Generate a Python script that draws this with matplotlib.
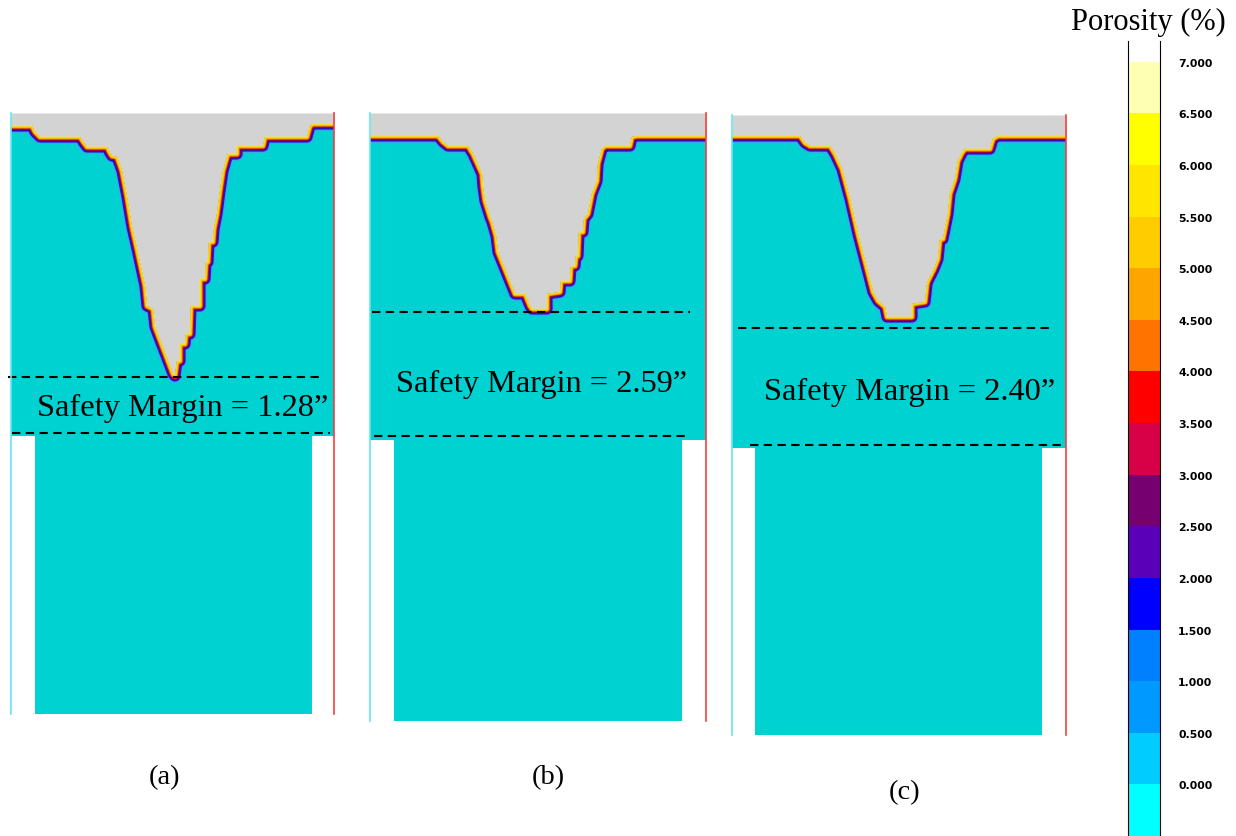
import numpy as np
import matplotlib
matplotlib.use('Agg')
from matplotlib import pyplot as plt

# ---- data (panel-local units = pixels from panel top-left) ----
# panel (a)
a_x = [0, 21, 24, 29, 69, 73, 76, 96, 99, 101, 106, 111, 116, 121, 126, 134, 136, 142, 144, 162, 164,
       166, 169, 169, 174, 175, 179, 180, 189, 189, 194, 195, 197, 198, 202, 203, 206, 209, 212, 216,
       217, 226, 226, 252, 254, 296, 299, 302, 323]
a_y = [13, 13, 19, 24, 24, 30, 34, 34, 40, 43, 44, 58, 84, 114, 136, 173, 193, 196, 214, 261, 263,
       248, 248, 231, 231, 221, 221, 193, 193, 166, 166, 149, 149, 129, 129, 116, 101, 78, 58, 44,
       41, 41, 33, 33, 24, 24, 13, 11, 11]
# panel (b)
b_x = [0, 68, 73, 78, 98, 103, 112, 113, 115, 120, 122, 126, 128, 145, 155, 160, 162, 177, 177, 190,
       191, 200, 201, 205, 206, 208, 209, 213, 214, 218, 222, 227, 228, 232, 235, 260, 262, 267, 336]
b_y = [23, 23, 29, 33, 33, 41, 61, 74, 88, 104, 109, 123, 139, 181, 181, 193, 196, 196, 181, 179,
       168, 168, 153, 153, 143, 143, 119, 119, 106, 101, 81, 68, 51, 36, 33, 33, 24, 23, 23]
# panel (c)
c_x = [0, 68, 73, 78, 98, 103, 110, 118, 126, 133, 141, 146, 153, 155, 180, 180, 193, 195, 196, 202,
       206, 208, 211, 216, 218, 223, 226, 230, 233, 258, 261, 266, 334]
c_y = [21, 21, 28, 31, 31, 39, 54, 84, 119, 146, 177, 186, 192, 202, 202, 189, 187, 169, 166, 154,
       144, 124, 124, 99, 79, 64, 46, 38, 34, 34, 24, 21, 21]

panel_labels = ['(a)', '(b)', '(c)']
margins = ['1.28', '2.59', '2.40']

# porosity colour scale
levels = [-0.5, 0.0, 0.5, 1.0, 1.5, 2.0, 2.5, 3.0, 3.5, 4.0, 4.5, 5.0, 5.5, 6.0, 6.5]
level_colors = ['#00FFFF', '#00CCFF', '#0099FF', '#0080FF', '#0000FF', '#5A00B8', '#760070',
                '#D80046', '#FF0000', '#FF7300', '#FFA500', '#FFCC00', '#FFE600', '#FFFF00', '#FFFFB4']
tick_vals = np.arange(0, 7.01, 0.5)

# ---- layout (pixel boxes in a 1236x837 canvas) ----
FW, FH = 1236, 837
panels = [
    dict(x=a_x, y=a_y, box=(11, 114, 334, 715), lower=(323, 24, 301),
         dash=[(264, -3, 311), (320, 1, 319)], txt=(172, 294), lab=(165, 778)),
    dict(x=b_x, y=b_y, box=(370, 114, 706, 722), lower=(327, 24, 312),
         dash=[(199, 2, 320), (323, 4, 320)], txt=(172, 270), lab=(548, 778)),
    dict(x=c_x, y=c_y, box=(732, 116, 1066, 736), lower=(333, 23, 310),
         dash=[(213, 6, 320), (330, 18, 330)], txt=(178, 276), lab=(905, 793)),
]

serif = 'Liberation Serif'
solid = '#00D2D2'
void = '#D3D3D3'
# boundary bands (colour, half stroke width in px), widest first
bands = [('#3AA8EC', 7.0), ('#1020D8', 5.6), ('#4A0090', 4.5), ('#C80028', 3.6),
         ('#E88C00', 2.6), ('#F0D400', 1.7)]
px2pt = 72.0 / 100

fig = plt.figure(figsize=(FW / 100, FH / 100), dpi=100)

for i, p in enumerate(panels):
    l, t, r, b = p['box']
    W, H = r - l, b - t
    ax = fig.add_axes([l / FW, 1 - b / FH, W / FW, H / FH])
    ax.set_xlim(0, W)
    ax.set_ylim(H, 0)
    ax.set_xticks([])
    ax.set_yticks([])
    ax.set_facecolor('white')
    for s in ['top', 'bottom']:
        ax.spines[s].set_visible(False)
    ax.spines['left'].set_color('#60E8F0')
    ax.spines['right'].set_color('#F04040')
    ax.spines['left'].set_linewidth(1.2)
    ax.spines['right'].set_linewidth(1.2)

    px = np.array(p['x'], dtype=float)
    py = np.array(p['y'], dtype=float)
    # void (gray) above the surface
    ax.fill_between(px, 0, py, color=void, lw=0)
    # solid body below the surface
    yl, sl, sr = p['lower']
    xs = list(px) + [W, sr, sr, sl, sl, 0]
    ys = list(py) + [yl, yl, H, H, yl, yl]
    poly = ax.fill(xs, ys, color=solid, lw=0)[0]
    # porosity bands along the surface
    for col, hw in bands:
        ln, = ax.plot(px, py, color=col, lw=2 * hw * px2pt, solid_joinstyle='round',
                      solid_capstyle='butt')
        ln.set_clip_path(poly)
    ax.plot(px, py, color='#F8E060', lw=1.0, alpha=0.7)

    for yy, x0, x1 in p['dash']:
        ax.plot([x0, x1], [yy, yy], color='black', lw=1.5, dashes=(4, 2.6), clip_on=False)

    ax.text(p['txt'][0], p['txt'][1], 'Safety Margin = ' + margins[i] + '\u201d',
            ha='center', va='center', fontsize=23.3, family=serif)
    fig.text(p['lab'][0] / FW, 1 - p['lab'][1] / FH, panel_labels[i],
             ha='center', va='center', fontsize=20.5, family=serif)

# ---- colour bar ----
cax = fig.add_axes([1128 / FW, 0, 32 / FW, (FH - 42) / FH])
for lo, col in zip(levels, level_colors):
    cax.bar(0, 0.5, bottom=lo, width=1, color=col, lw=0)
cax.set_xlim(-0.5, 0.5)
cax.set_ylim(-0.5, 7.2)
cax.set_xticks([])
cax.yaxis.tick_right()
cax.set_yticks(tick_vals)
cax.set_yticklabels(['%.3f' % v for v in tick_vals])
cax.tick_params(axis='y', length=0, pad=13, labelsize=7.8)
for lab in cax.get_yticklabels():
    lab.set_fontweight('bold')
cax.spines['top'].set_visible(False)
cax.spines['bottom'].set_visible(False)
fig.text(1148 / FW, 1 - 22 / FH, 'Porosity (%)', ha='center', va='center',
         fontsize=22, family=serif)

plt.savefig('out.png', dpi=100)
